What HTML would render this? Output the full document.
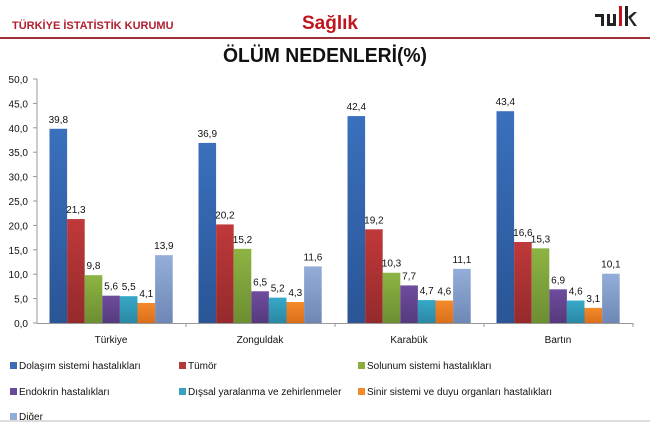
<!DOCTYPE html>
<html><head><meta charset="utf-8"><style>
body{margin:0;background:#fff;}
svg{display:block;font-family:"Liberation Sans",sans-serif;}
</style></head><body>
<svg width="650" height="422" viewBox="0 0 650 422" xmlns="http://www.w3.org/2000/svg">
<defs>
<linearGradient id="g0" x1="0" y1="0" x2="0" y2="1"><stop offset="0" stop-color="#3a70bd"/><stop offset="1" stop-color="#2a5596"/></linearGradient>
<linearGradient id="g1" x1="0" y1="0" x2="0" y2="1"><stop offset="0" stop-color="#c0393a"/><stop offset="1" stop-color="#952a2c"/></linearGradient>
<linearGradient id="g2" x1="0" y1="0" x2="0" y2="1"><stop offset="0" stop-color="#8db443"/><stop offset="1" stop-color="#6d8e32"/></linearGradient>
<linearGradient id="g3" x1="0" y1="0" x2="0" y2="1"><stop offset="0" stop-color="#6f4c9e"/><stop offset="1" stop-color="#553a7c"/></linearGradient>
<linearGradient id="g4" x1="0" y1="0" x2="0" y2="1"><stop offset="0" stop-color="#38a9c9"/><stop offset="1" stop-color="#2a87a3"/></linearGradient>
<linearGradient id="g5" x1="0" y1="0" x2="0" y2="1"><stop offset="0" stop-color="#f58a2a"/><stop offset="1" stop-color="#d96f1a"/></linearGradient>
<linearGradient id="g6" x1="0" y1="0" x2="0" y2="1"><stop offset="0" stop-color="#94aed9"/><stop offset="1" stop-color="#6e87b5"/></linearGradient>
</defs>
<text x="12" y="29" font-size="11" font-weight="bold" fill="#b02030">TÜRKİYE İSTATİSTİK KURUMU</text>
<text x="330" y="29" font-size="19" font-weight="bold" fill="#c0141e" text-anchor="middle">Sağlık</text>
<g fill="#222">
<rect x="595" y="14" width="9" height="3"/><rect x="601" y="14" width="3" height="12"/>
<rect x="607" y="14" width="3" height="12"/><rect x="613" y="14" width="3" height="12"/><rect x="607" y="23" width="9" height="3"/>
<rect x="619" y="6" width="3" height="20" fill="#c0141e"/>
<rect x="625" y="6" width="3" height="20"/><path d="M628 17 L634 12 L637 12 L631 18 L637 26 L634 26 Z"/>
</g>
<rect x="0" y="37" width="650" height="2" fill="#a03038"/>
<text x="325" y="62" font-size="20" font-weight="bold" fill="#111" text-anchor="middle" textLength="204" lengthAdjust="spacingAndGlyphs">ÖLÜM NEDENLERİ(%)</text>
<g font-size="10" fill="#111" text-anchor="end" id="yl"></g>
<line x1="37" y1="79" x2="37" y2="323" stroke="#999" stroke-width="1"/>
<line x1="37" y1="323.5" x2="633" y2="323.5" stroke="#999" stroke-width="1"/>
<g id="bars"></g>
<g font-size="10" fill="#111" text-anchor="middle">
<text x="111" y="343">Türkiye</text><text x="260" y="343">Zonguldak</text><text x="409" y="343">Karabük</text><text x="558" y="343">Bartın</text>
</g>
<g font-size="10" fill="#111">
<rect x="10" y="362" width="7" height="7" fill="#3a6db5"/><text x="19" y="369">Dolaşım sistemi hastalıkları</text>
<rect x="179" y="362" width="7" height="7" fill="#b5383a"/><text x="188" y="369">Tümör</text>
<rect x="358" y="362" width="7" height="7" fill="#8aae3e"/><text x="367" y="369">Solunum sistemi hastalıkları</text>
<rect x="10" y="388" width="7" height="7" fill="#6a4a96"/><text x="19" y="395">Endokrin hastalıkları</text>
<rect x="179" y="388" width="7" height="7" fill="#38a3c1"/><text x="188" y="395">Dışsal yaralanma ve zehirlenmeler</text>
<rect x="358" y="388" width="7" height="7" fill="#f08a2a"/><text x="367" y="395">Sinir sistemi ve duyu organları hastalıkları</text>
<rect x="10" y="413" width="7" height="7" fill="#93acd6"/><text x="19" y="420">Diğer</text>
</g>
<rect x="0" y="420" width="650" height="2" fill="#ddd"/>
</svg>
<script>
var ns="http://www.w3.org/2000/svg";
var yl=document.getElementById("yl");
for(var i=0;i<=10;i++){var v=i*5;var y=323-v*4.88;var t=document.createElementNS(ns,"text");t.setAttribute("x",28);t.setAttribute("y",y+4);t.textContent=v.toFixed(1).replace(".",",");yl.appendChild(t);
var l=document.createElementNS(ns,"line");l.setAttribute("x1",33);l.setAttribute("x2",37);l.setAttribute("y1",y);l.setAttribute("y2",y);l.setAttribute("stroke","#999");yl.appendChild(l);}
var data=[[39.8,21.3,9.8,5.6,5.5,4.1,13.9],[36.9,20.2,15.2,6.5,5.2,4.3,11.6],[42.4,19.2,10.3,7.7,4.7,4.6,11.1],[43.4,16.6,15.3,6.9,4.6,3.1,10.1]];
var b=document.getElementById("bars");
for(var g=0;g<4;g++){var gx=37+149*g;
 var tk=document.createElementNS(ns,"line");tk.setAttribute("x1",gx+149);tk.setAttribute("x2",gx+149);tk.setAttribute("y1",323);tk.setAttribute("y2",327);tk.setAttribute("stroke","#999");b.appendChild(tk);
 for(var j=0;j<7;j++){var v=data[g][j];var x=gx+12.5+j*17.6;var h=v*4.88;
  var r=document.createElementNS(ns,"rect");r.setAttribute("x",x);r.setAttribute("y",323-h);r.setAttribute("width",17.6);r.setAttribute("height",h);r.setAttribute("fill","url(#g"+j+")");b.appendChild(r);
  var t=document.createElementNS(ns,"text");t.setAttribute("x",x+8.8);t.setAttribute("y",323-h-6);t.setAttribute("font-size","10");t.setAttribute("text-anchor","middle");t.setAttribute("fill","#111");t.textContent=v.toFixed(1).replace(".",",");b.appendChild(t);}}
</script>
</body></html>
